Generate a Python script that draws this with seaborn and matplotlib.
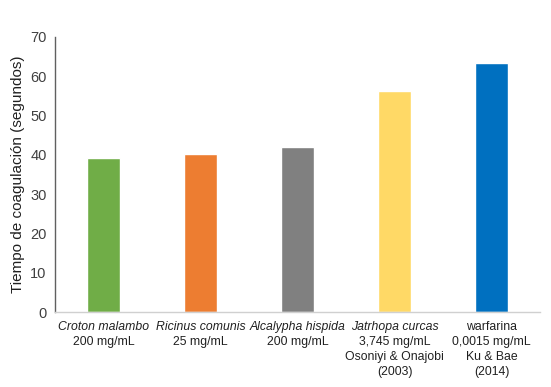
import matplotlib
matplotlib.use("Agg")
import matplotlib.pyplot as plt
import seaborn as sns
import pandas as pd

names = ["Croton malambo", "Ricinus comunis", "Alcalypha hispida", "Jatrhopa curcas", "warfarina"]
italic_name = [True, True, True, True, False]
extra_lines = [["200 mg/mL"], ["25 mg/mL"], ["200 mg/mL"],
               ["3,745 mg/mL", "Osoniyi & Onajobi", "(2003)"],
               ["0,0015 mg/mL", "Ku & Bae", "(2014)"]]
values = [39.2, 40.2, 42.0, 56.2, 63.5]
colors = ["#70AD47", "#ED7D31", "#808080", "#FFD966", "#0070C0"]

sns.set_theme(style="white")
plt.rcParams["font.family"] = ["Liberation Sans", "DejaVu Sans"]

df = pd.DataFrame({"name": names, "value": values})

fig = plt.figure(figsize=(5.51, 3.87), dpi=100)
ax = fig.add_axes([55/551, 1 - 312/387, (540-55)/551, (312-37)/387])
sns.barplot(data=df, x="name", y="value", hue="name", palette=colors,
            width=0.33, legend=False, ax=ax, saturation=1)

ax.set_ylim(0, 70)
ax.set_xlim(-0.5, 4.5)
ax.set_yticks(range(0, 71, 10))
ax.tick_params(axis="y", labelsize=10.5, colors="#404040", length=0, pad=6)
ax.set_xticks(range(len(names)))
ax.set_xticklabels([""] * len(names))
ax.tick_params(axis="x", length=0)
ax.set_xlabel("")
ax.set_ylabel("Tiempo de coagulación (segundos)", fontsize=11, color="#202020", labelpad=4)
for s in ["top", "right"]:
    ax.spines[s].set_visible(False)
ax.spines["left"].set_color("#606060")
ax.spines["left"].set_linewidth(1.0)
ax.spines["bottom"].set_color("#D0D0D0")
ax.spines["bottom"].set_linewidth(1.0)

line_h = 10.8
for i, (nm, it, ex) in enumerate(zip(names, italic_name, extra_lines)):
    lines = [(nm, it)] + [(e, False) for e in ex]
    for j, (txt, itl) in enumerate(lines):
        ax.annotate(txt, xy=(i, 0), xycoords=("data", "axes fraction"),
                    xytext=(0, -6.5 - j * line_h), textcoords="offset points",
                    ha="center", va="top", fontsize=8.8, color="#202020",
                    style="italic" if itl else "normal", annotation_clip=False)

fig.savefig("out.png", dpi=100)
